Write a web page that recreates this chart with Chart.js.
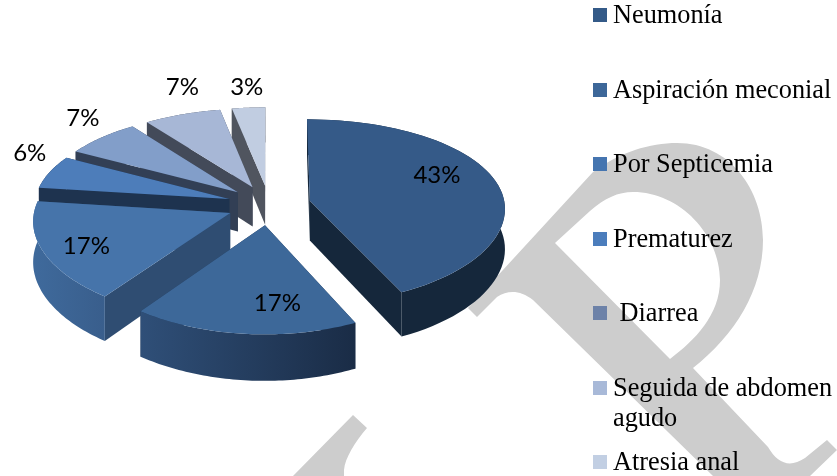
<!DOCTYPE html>
<html><head><meta charset="utf-8">
<style>html,body{margin:0;padding:0;background:#fff}canvas{display:block}</style>
<script src="https://cdn.jsdelivr.net/npm/chart.js@4"></script>
</head><body><canvas id="c" width="837" height="476"></canvas>
<script>
const categories = ['Neumonía','Aspiración meconial','Por Septicemia','Prematurez',' Diarrea','Seguida de abdomen','Atresia anal'];
const categoryExtraLine = [null,null,null,null,null,'agudo',null];
const values = [43,17,17,6,7,7,3];
const topColors = ['#355a88','#3d6899','#4674aa','#4d7dba','#829ec9','#a7b7d6','#c1cde1'];
const legendColors = ['#345a88','#3d6799','#4575b0','#4b7dbc','#6d82a8','#a8b9d8','#c2cfe3'];
const sideColors = ['#15273b','#1e3350','#2f4d72','#1e334f','#323f55','#434a59','#50555f'];
const rimLeft = ['#15273b','#2f4f78','#3f6a9c','#1e334f','#323f55','#434a59','#50555f'];
const rimRight = ['#15273b','#1a2c46','#395e8c','#1e334f','#323f55','#434a59','#50555f'];

const PERSP_X = 0.075, PERSP_Y = 0.115, TILT = 0.47, DEPTH = 40;
const labelFrac = [0.68,0.68,0.68,1.12,1.12,1.12,1.12];
const labelNudge = [[0,-12],[26,7],[-18,7],[1,-16],[-3,-13],[8,-19],[0,-12]];

function project(arc, angle, rad, down){
  const mid = (arc.startAngle + arc.endAngle) / 2;
  const d = arc.options.offset;
  const px = d*Math.cos(mid) + rad*Math.cos(angle);
  const py = d*Math.sin(mid) + rad*Math.sin(angle);
  const sx = 1 / (1 - PERSP_X*py/arc.outerRadius);
  const sy = 1 / (1 - PERSP_Y*py/arc.outerRadius);
  return {x: arc.x + px*sx, y: arc.y + py*TILT*sy + (down ? DEPTH*sy : 0)};
}
function poly(ctx, pts){
  ctx.beginPath();
  pts.forEach((p,i)=> i ? ctx.lineTo(p.x,p.y) : ctx.moveTo(p.x,p.y));
  ctx.closePath();
}
function rimAngles(arc){
  const out = [], n = 60;
  for(let i=0;i<=n;i++) out.push(arc.startAngle + (arc.endAngle-arc.startAngle)*i/n);
  return out;
}
const pie3d = {
  id:'pie3d',
  beforeDraw(chart){
    // grey watermark behind the chart
    const ctx = chart.ctx;
    ctx.save();
    ctx.fillStyle = '#cdcdcd';
    ctx.beginPath();
    ctx.moveTo(468,308); ctx.lineTo(593,172);
    ctx.bezierCurveTo(620,152,650,143,677,143);
    ctx.bezierCurveTo(730,143,763,190,763,240);
    ctx.bezierCurveTo(763,290,735,335,693,368);
    ctx.lineTo(768,447);
    ctx.bezierCurveTo(778,464,790,468,805,458);
    ctx.lineTo(827,440); ctx.lineTo(837,450); ctx.lineTo(810,476); ctx.lineTo(713,476);
    ctx.lineTo(533,300);
    ctx.bezierCurveTo(520,290,508,290,497,297);
    ctx.lineTo(477,317); ctx.closePath();
    ctx.moveTo(555,243); ctx.lineTo(590,211);
    ctx.bezierCurveTo(605,198,618,192,633,192);
    ctx.bezierCurveTo(680,192,720,235,720,280);
    ctx.bezierCurveTo(720,315,695,340,670,359);
    ctx.closePath();
    ctx.fill('evenodd');
    ctx.beginPath();
    ctx.moveTo(353,415); ctx.lineTo(367,428);
    ctx.bezierCurveTo(355,442,345,458,344,470);
    ctx.lineTo(344,476); ctx.lineTo(293,476); ctx.closePath();
    ctx.fill();
    ctx.restore();
  },
  beforeDatasetDraw(chart, args){
    const ctx = chart.ctx, arcs = args.meta.data;
    for(let i=arcs.length-1;i>=0;i--){
      const arc = arcs[i];
      const angles = rimAngles(arc);
      const R = arc.outerRadius;
      const apexT = project(arc,0,0,false), apexB = project(arc,0,0,true);
      const rimT = angles.map(a=>project(arc,a,R,false));
      const rimB = angles.map(a=>project(arc,a,R,true));
      // radial walls
      ctx.fillStyle = sideColors[i];
      poly(ctx,[apexT,rimT[rimT.length-1],rimB[rimB.length-1],apexB]); ctx.fill();
      poly(ctx,[apexT,rimT[0],rimB[0],apexB]); ctx.fill();
      // rim wall
      const xs = rimT.map(p=>p.x);
      const g = ctx.createLinearGradient(Math.min(...xs),0,Math.max(...xs)+0.01,0);
      g.addColorStop(0,rimLeft[i]); g.addColorStop(1,rimRight[i]);
      ctx.fillStyle = g;
      poly(ctx,rimT.concat(rimB.slice().reverse())); ctx.fill();
      // top face
      ctx.fillStyle = arc.options.backgroundColor;
      poly(ctx,[apexT].concat(rimT)); ctx.fill();
    }
    return false;
  },
  afterDraw(chart){
    const ctx = chart.ctx, arcs = chart.getDatasetMeta(0).data;
    ctx.save();
    ctx.fillStyle = '#000';
    ctx.font = '24px Lato';
    ctx.textAlign = 'center'; ctx.textBaseline = 'middle';
    arcs.forEach((arc,i)=>{
      const mid = (arc.startAngle+arc.endAngle)/2;
      const p = project(arc,mid,arc.outerRadius*labelFrac[i],false);
      ctx.fillText(values[i]+'%', p.x+labelNudge[i][0], p.y+labelNudge[i][1]);
    });
    // legend
    ctx.textAlign = 'left'; ctx.textBaseline = 'alphabetic';
    ctx.font = '26.3px "Liberation Serif"';
    categories.forEach((name,i)=>{
      const top = 8 + i*74.5;
      ctx.fillStyle = legendColors[i];
      ctx.fillRect(593,Math.round(top),14,14);
      ctx.fillStyle = '#000';
      const y = Math.round(top)+15;
      ctx.fillText(name,613,y);
      if(categoryExtraLine[i]) ctx.fillText(categoryExtraLine[i],613,y+30);
    });
    ctx.restore();
  }
};
new Chart(document.getElementById('c'),{
  type:'pie',
  data:{labels:categories,datasets:[{data:values,backgroundColor:topColors,borderWidth:0,offset:42,radius:195}]},
  options:{
    responsive:false,animation:false,
    layout:{padding:{left:0,top:0,right:299,bottom:66}},
    plugins:{legend:{display:false},tooltip:{enabled:false}}
  },
  plugins:[pie3d]
});
</script></body></html>
